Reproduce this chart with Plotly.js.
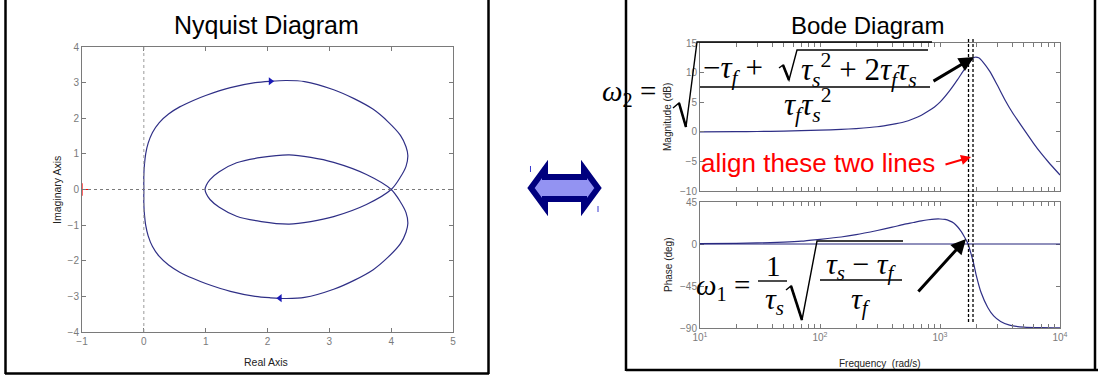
<!DOCTYPE html>
<html>
<head>
<meta charset="utf-8">
<script src="https://cdn.plot.ly/plotly-3.0.1.min.js"></script>
<style>
  html, body { margin: 0; padding: 0; background: #ffffff; }
  #chart { width: 1098px; height: 379px; }
</style>
</head>
<body>
<div id="chart"></div>
<script>
// ---------- Nyquist contour (real / imaginary parts) ----------
const nyqRe = [
  0.00, 0.00, 0.01, 0.03, 0.07, 0.14, 0.25, 0.40, 0.58, 0.80, 1.00, 1.40, 1.80, 2.05, 2.30, 2.60, 3.07, 3.40, 3.71, 3.95, 4.15, 4.24, 4.27, 4.24, 4.15, 4.00,
  3.60, 3.07, 2.70, 2.35, 1.90, 1.50, 1.22, 1.07, 1.01, 0.99,
  1.01, 1.07, 1.22, 1.50, 1.90, 2.35, 2.70, 3.07, 3.60, 4.00,
  4.15, 4.24, 4.27, 4.24, 4.15, 3.95, 3.71, 3.40, 3.07, 2.60, 2.30, 2.05, 1.80, 1.40, 1.00, 0.80, 0.58, 0.40, 0.25, 0.14, 0.07, 0.03, 0.01, 0.00, 0.00
];
const nyqIm = [
  0.00, 0.40, 0.70, 1.00, 1.30, 1.60, 1.88, 2.12, 2.32, 2.50, 2.64, 2.86, 3.00, 3.04, 3.06, 3.03, 2.80, 2.55, 2.25, 1.90, 1.52, 1.20, 0.95, 0.65, 0.35, 0.00,
  -0.42, -0.76, -0.90, -0.97, -0.90, -0.75, -0.50, -0.28, -0.12, 0.00,
  0.12, 0.28, 0.50, 0.75, 0.90, 0.97, 0.90, 0.76, 0.42, 0.00,
  -0.35, -0.65, -0.95, -1.20, -1.52, -1.90, -2.25, -2.55, -2.80, -3.03, -3.06, -3.04, -3.00, -2.86, -2.64, -2.50, -2.32, -2.12, -1.88, -1.60, -1.30, -1.00, -0.70, -0.40, 0.00
];
// direction markers on the contour
const dirRe = [2.05, 2.20];
const dirIm = [3.04, -3.05];
const dirSymbol = ['triangle-right', 'triangle-left'];
// critical point -1 + 0j
const critRe = [-1];
const critIm = [0];

const nyqXTicks = [-1, 0, 1, 2, 3, 4, 5];
const nyqYTicks = [-4, -3, -2, -1, 0, 1, 2, 3, 4];

// ---------- Bode data ----------
const freqMag = [10, 20, 30, 50, 70, 100, 150, 200, 300, 400, 500, 600, 700, 800, 900, 1000, 1200, 1400, 1600, 1800, 1950, 2100, 2300, 2600, 3000, 3500, 4000, 5000, 6000, 7000, 8000, 10000];
const magDb   = [0.0, 0.02, 0.05, 0.12, 0.2, 0.28, 0.4, 0.55, 0.85, 1.25, 1.65, 2.2, 2.8, 3.5, 4.2, 5.0, 6.9, 8.8, 10.6, 12.0, 12.6, 12.5, 11.7, 10.2, 7.9, 5.3, 3.3, 0.4, -1.9, -3.7, -5.1, -7.3];

const freqPh   = [10, 20, 30, 50, 70, 100, 150, 200, 300, 400, 500, 600, 700, 800, 900, 1000, 1100, 1200, 1300, 1400, 1500, 1600, 1700, 1800, 1900, 2000, 2200, 2500, 2800, 3200, 3800, 5000, 7000, 10000];
const phaseDeg = [0.3, 0.7, 1.1, 2.0, 3.0, 5.0, 7.5, 10.0, 14.5, 18.0, 21.0, 23.0, 24.8, 26.0, 26.7, 26.8, 26.3, 24.8, 22.5, 18.5, 13.5, 7.5, 1.0, -9.0, -20.0, -33.0, -52.0, -68.0, -77.0, -83.0, -87.0, -89.0, -89.6, -89.8];

// the two marked frequencies (phase crossover / magnitude peak)
const markFreqs = [1728, 1884];

const magTicks = [-10, -5, 0, 5, 10, 15];
const phaseTicks = [-90, -45, 0, 45];
const decades = [10, 100, 1000, 10000];
const decadeLabels = ['10<sup>1</sup>', '10<sup>2</sup>', '10<sup>3</sup>', '10<sup>4</sup>'];

// ---------- helpers: page pixels -> paper fractions ----------
const W = 1098, H = 379;
const px = x => x / W;
const py = y => 1 - y / H;
const pathOf = pts => pts.map((p, i) => (i ? 'L' : 'M') + px(p[0]).toFixed(5) + ',' + py(p[1]).toFixed(5)).join(' ');

// log-axis tick positions: decades labelled, intermediate ticks blank
const logTickVals = [];
const logTickText = [];
decades.forEach((d, i) => {
  const steps = i < decades.length - 1 ? 9 : 1;
  for (let k = 1; k <= steps; k++) {
    logTickVals.push(k * d);
    logTickText.push(k === 1 ? decadeLabels[i] : '');
  }
});

const GREY = '#7a7a7a';
const CURVE = '#2f2f86';
const tickFont = { family: 'Liberation Sans, Arial, sans-serif', size: 10, color: GREY };
const frame = {
  showline: true, linecolor: GREY, linewidth: 1, mirror: 'ticks',
  ticks: 'inside', ticklen: 4, tickcolor: GREY, tickwidth: 1,
  showgrid: false, zeroline: false, tickfont: tickFont, fixedrange: true
};

const traces = [
  { x: nyqRe, y: nyqIm, xaxis: 'x', yaxis: 'y', mode: 'lines', line: { color: CURVE, width: 1.2, shape: 'spline', smoothing: 0.9 } },
  { x: dirRe, y: dirIm, xaxis: 'x', yaxis: 'y', mode: 'markers',
    marker: { symbol: dirSymbol, size: 7, color: '#1a1ab8' } },
  { x: critRe, y: critIm, xaxis: 'x', yaxis: 'y', mode: 'markers',
    marker: { symbol: 'cross-thin', size: 9, line: { color: '#ff0000', width: 1.2 } } },
  { x: freqMag, y: magDb, xaxis: 'x2', yaxis: 'y2', mode: 'lines', line: { color: CURVE, width: 1.2, shape: 'spline', smoothing: 0.6 } },
  { x: freqPh, y: phaseDeg, xaxis: 'x3', yaxis: 'y3', mode: 'lines', line: { color: CURVE, width: 1.2, shape: 'spline', smoothing: 0.6 } }
];

const shapes = [];
// Nyquist reference axes (dotted)
shapes.push({ type: 'line', xref: 'x', yref: 'y domain', x0: 0, x1: 0, y0: 0, y1: 1, line: { color: '#9a9a9a', width: 1, dash: 'dot' } });
shapes.push({ type: 'line', xref: 'x domain', yref: 'y', x0: 0, x1: 1, y0: 0, y1: 0, line: { color: '#7a7a7a', width: 1, dash: 'dot' } });
// 0 deg reference line on the phase plot
shapes.push({ type: 'line', xref: 'x3 domain', yref: 'y3', x0: 0, x1: 1, y0: 0, y1: 0, line: { color: '#23237a', width: 1.2 } });
// dashed markers through both Bode plots
markFreqs.forEach(f => shapes.push({
  type: 'line', xref: 'x2', yref: 'paper', x0: f, x1: f, y0: py(322), y1: py(38),
  line: { color: '#000000', width: 1.3, dash: '3px,2px' }
}));
// panel frames
const boxLine = { color: '#000000', width: 2.5 };
[
  [[5.5, 0], [5.5, 374]], [[5, 373.5], [489, 373.5]], [[488.5, 0], [488.5, 374]],
  [[626, 0], [626, 371]], [[626, 370], [1098, 370]], [[1095, 0], [1095, 371]]
].forEach(seg => shapes.push({ type: 'path', xref: 'paper', yref: 'paper', path: pathOf(seg), line: boxLine }));

// radicals and fraction bars for the two formulas
const eqLine = { color: '#000000', width: 1.4 };
const eqPaths = [
  // omega_2: outer radical
  [[673, 108], [679, 103], [686, 127], [697, 42], [932, 42]],
  // omega_2: inner radical
  [[779, 68], [783, 65], [789, 80], [797, 50], [928, 50]],
  // omega_2: fraction bar
  [[700, 87], [930, 87]],
  // omega_1: 1/tau_s bar
  [[758, 281], [787, 281]],
  // omega_1: radical
  [[786, 290], [791, 286], [802, 320], [817, 241], [903, 241]],
  // omega_1: inner fraction bar
  [[820, 280], [902, 280]]
];
eqPaths.forEach(p => shapes.push({ type: 'path', xref: 'paper', yref: 'paper', path: pathOf(p), line: eqLine }));
// heavier down-strokes of the radicals
[[[679, 103], [686, 127]], [[783, 65], [789, 80]], [[791, 286], [802, 320]]].forEach(p =>
  shapes.push({ type: 'path', xref: 'paper', yref: 'paper', path: pathOf(p), line: { color: '#000', width: 2.6 } }));

// double arrow between the two panels
shapes.push({
  type: 'path', xref: 'paper', yref: 'paper',
  path: pathOf([[531, 188], [545, 169], [545, 177], [584, 177], [584, 169], [598, 188], [584, 207], [584, 199], [545, 199], [545, 207]]) + ' Z',
  fillcolor: '#9393f2', line: { color: '#00007e', width: 6 }
});
[[[530.5, 166], [530.5, 172]], [[598, 206], [598, 212]]].forEach(p =>
  shapes.push({ type: 'path', xref: 'paper', yref: 'paper', path: pathOf(p), line: { color: '#3a3ad0', width: 1 } }));

const sans = 'Liberation Sans, Arial, sans-serif';
const serif = 'Liberation Serif, Times New Roman, serif';
const note = (x, y, text, opts) => Object.assign({
  xref: 'paper', yref: 'paper', x: px(x), y: py(y), text: text, showarrow: false,
  xanchor: 'center', yanchor: 'middle', font: { family: sans, size: 10, color: '#111' }
}, opts || {});
const arrow = (tip, tail, color, width) => ({
  xref: 'paper', yref: 'paper', x: px(tip[0]), y: py(tip[1]), text: '', showarrow: true,
  axref: 'pixel', ayref: 'pixel', ax: tail[0] - tip[0], ay: tail[1] - tip[1],
  arrowhead: 2, arrowsize: 1, arrowwidth: width, arrowcolor: color, standoff: 0, startstandoff: 0
});

const mathFont = s => ({ family: serif, size: s, color: '#000' });
const annotations = [
  note(266, 25, 'Nyquist Diagram', { font: { family: sans, size: 25, color: '#000' } }),
  note(266, 362, 'Real Axis', { font: { family: sans, size: 10.5, color: '#222' } }),
  note(57, 190, 'Imaginary Axis', { textangle: -90, font: { family: sans, size: 10.5, color: '#222' } }),
  note(867, 25, 'Bode Diagram', { font: { family: sans, size: 24, color: '#000' } }),
  note(880, 363, 'Frequency  (rad/s)', { font: { family: sans, size: 10, color: '#222' } }),
  note(667, 117, 'Magnitude (dB)', { textangle: -90, font: { family: sans, size: 10, color: '#222' } }),
  note(668, 265, 'Phase (deg)', { textangle: -90, font: { family: sans, size: 10, color: '#222' } }),

  // omega_2 formula
  note(600, 93, '<i>ω</i><sub>2</sub> =', { xanchor: 'left', font: mathFont(29) }),
  note(701, 70, '−<i>τ</i><sub><i>f</i></sub> +', { xanchor: 'left', font: mathFont(31) }),
  note(799, 70, '<i>τ</i><sub><i>s</i></sub><sup>2</sup> + 2<i>τ</i><sub><i>f</i></sub><i>τ</i><sub><i>s</i></sub>', { xanchor: 'left', font: mathFont(31) }),
  note(808, 105, '<i>τ</i><sub><i>f</i></sub><i>τ</i><sub><i>s</i></sub><sup>2</sup>', { font: mathFont(31) }),

  // omega_1 formula
  note(694, 287, '<i>ω</i><sub>1</sub> =', { xanchor: 'left', font: mathFont(29) }),
  note(773, 266, '1', { font: mathFont(29) }),
  note(774, 301, '<i>τ</i><sub><i>s</i></sub>', { font: mathFont(30) }),
  note(861, 266, '<i>τ</i><sub><i>s</i></sub> − <i>τ</i><sub><i>f</i></sub>', { font: mathFont(30) }),
  note(861, 301, '<i>τ</i><sub><i>f</i></sub>', { font: mathFont(30) }),

  note(699, 163, 'align these two lines', { xanchor: 'left', font: { family: sans, size: 26, color: '#ff0000' } }),

  arrow([974, 57], [932, 82], '#000000', 3),
  arrow([966, 239], [917, 293], '#000000', 3),
  arrow([971, 157], [944, 165], '#ff0000', 2)
];

const layout = {
  width: W, height: H,
  margin: { l: 0, r: 0, t: 0, b: 0 },
  paper_bgcolor: '#ffffff', plot_bgcolor: '#ffffff',
  showlegend: false,
  font: { family: sans },
  xaxis: Object.assign({}, frame, { domain: [px(82), px(453)], range: [-1, 5], tickvals: nyqXTicks, anchor: 'y' }),
  yaxis: Object.assign({}, frame, { domain: [py(332), py(47)], range: [-4, 4], tickvals: nyqYTicks, anchor: 'x' }),
  xaxis2: Object.assign({}, frame, { domain: [px(700), px(1060)], type: 'log', range: [1, 4], tickvals: logTickVals, ticktext: logTickText, showticklabels: false, anchor: 'y2' }),
  yaxis2: Object.assign({}, frame, { domain: [py(191), py(43)], range: [-10, 15], tickvals: magTicks, anchor: 'x2' }),
  xaxis3: Object.assign({}, frame, { domain: [px(700), px(1060)], type: 'log', range: [1, 4], tickvals: logTickVals, ticktext: logTickText, anchor: 'y3' }),
  yaxis3: Object.assign({}, frame, { domain: [py(328), py(202)], range: [-90, 45], tickvals: phaseTicks, anchor: 'x3' }),
  shapes: shapes,
  annotations: annotations
};

Plotly.newPlot('chart', traces, layout, { staticPlot: true, displayModeBar: false });
</script>
</body>
</html>
